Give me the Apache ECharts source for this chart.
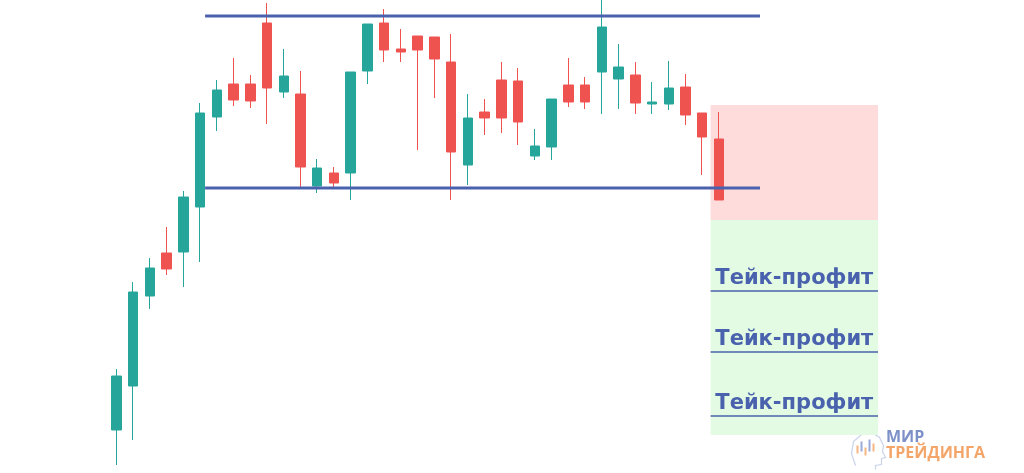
<!DOCTYPE html>
<html><head><meta charset="utf-8">
<script src="https://cdn.jsdelivr.net/npm/echarts@6/dist/echarts.min.js"></script>
<style>html,body{margin:0;padding:0;background:#fff}#c{width:1024px;height:473px}</style>
</head><body><div id="c"></div>
<script>
// categories (bar slots)
const categories = ['1','2','3','4','5','6','7','8','9','10','11','12','13','14','15','16','17','18','19','20','21','22','23','24','25','26','27','28','29','30','31','32','33','34','35','36','37','38','39','40','41','42','43','44','45','46'];
// candles: [open, close, low, high]
const candles = [
  [50,104,15,111],[94,188,40,198],[184,212,171,222],[227,211,205,253],[228,283,193,289],
  [273,367,218,377],[363,390,349,400],[396,380,374,422],[396,379,372,405],[457,392,356,477],
  [388,404,382,431],[386,313,293,409],[294,312,287,321],[307,297,293,313],[307,408,280,408],
  [409,456,396,456],[457,430,418,471],[431,428,418,451],[444,430,330,444],[443,421,382,443],
  [418,328,280,446],[315,362,295,386],[368,362,345,381],[400,362,347,418],[399,358,335,412],
  [324,334,320,351],[333,381,320,381],[395,378,373,422],[395,378,371,403],[408,453,366,480],
  [401,413,371,436],[405,377,366,418],[376,378,366,398],[376,392,370,419],[393,365,355,406],
  [367,343,305,367],[341,280,280,368]
];
// range levels
const resistance = [[5.3,464],[38.45,464]];
const support = [[5.3,292],[38.45,292]];
// zones [x0, y0, x1, y1]
const stopZone = [35.5,375,45.5,260];
const profitZone = [35.5,260,45.5,45];
// take-profit levels
const tpLevels = [189,128,64];
const tpLabel = 'Тейк-профит';

const chart = echarts.init(document.getElementById('c'));
const blue = '#4a62ad';
const series = [
  {
    type:'candlestick', xAxisIndex:0, yAxisIndex:0, data:candles, barWidth:10, z:3,
    itemStyle:{color:'#26a69a',color0:'#ef5350',borderColor:'#26a69a',borderColor0:'#ef5350',borderWidth:1}
  },
  {
    type:'line', xAxisIndex:1, yAxisIndex:0, data:[], z:1, silent:true,
    markArea:{silent:true, data:[
      [{coord:[stopZone[0],stopZone[1]],itemStyle:{color:'#ffdcdc'}},{coord:[stopZone[2],stopZone[3]]}],
      [{coord:[profitZone[0],profitZone[1]],itemStyle:{color:'#e3fbe2'}},{coord:[profitZone[2],profitZone[3]]}]
    ]},
    markLine:{silent:true, symbol:['none','none'], animation:false,
      lineStyle:{color:blue,width:1.5,type:'solid'},
      label:{show:true,position:'insideMiddleTop',formatter:tpLabel,color:blue,fontFamily:'DejaVu Sans',fontWeight:'bold',fontSize:21,distance:2},
      data: tpLevels.map(v=>[{coord:[profitZone[0],v]},{coord:[profitZone[2],v]}])
    }
  },
  {type:'line', xAxisIndex:1, yAxisIndex:0, data:resistance, symbol:'none', z:5, lineStyle:{color:blue,width:3}},
  {type:'line', xAxisIndex:1, yAxisIndex:0, data:support, symbol:'none', z:5, lineStyle:{color:blue,width:3}}
];
chart.setOption({
  animation:false,
  backgroundColor:'#ffffff',
  grid:{left:108,width:770,top:0,bottom:0},
  xAxis:[
    {type:'category',data:categories,show:false,boundaryGap:true},
    {type:'value',min:-0.5,max:45.5,show:false}
  ],
  yAxis:{type:'value',min:7,max:480,show:false,scale:true},
  series:series,
  graphic:[
    {type:'text',left:886,top:429,style:{text:'МИР',fill:'#7d90c8',font:'bold 16px "Open Sans"'}},
    {type:'text',left:886,top:445,style:{text:'ТРЕЙДИНГА',fill:'#f4a66a',font:'bold 16px "Open Sans"'}},
    {type:'group',left:849,top:430,children:[
      {type:'polyline',shape:{points:[[6,34],[2,22],[4,10],[12,3],[22,1],[30,6],[34,14],[33,20],[36,26],[32,27],[32,33],[26,34],[26,38]]},style:{stroke:'#c9d3ea',lineWidth:1.2,fill:null}},
      {type:'rect',shape:{x:7,y:14,width:2,height:8},style:{fill:'#f4b784'}},
      {type:'rect',shape:{x:11,y:10,width:2,height:10},style:{fill:'#9aa9d8'}},
      {type:'rect',shape:{x:15,y:16,width:2,height:8},style:{fill:'#f4b784'}},
      {type:'rect',shape:{x:19,y:8,width:2,height:12},style:{fill:'#9aa9d8'}},
      {type:'rect',shape:{x:23,y:12,width:2,height:8},style:{fill:'#f4b784'}}
    ]}
  ]
});
</script></body></html>
